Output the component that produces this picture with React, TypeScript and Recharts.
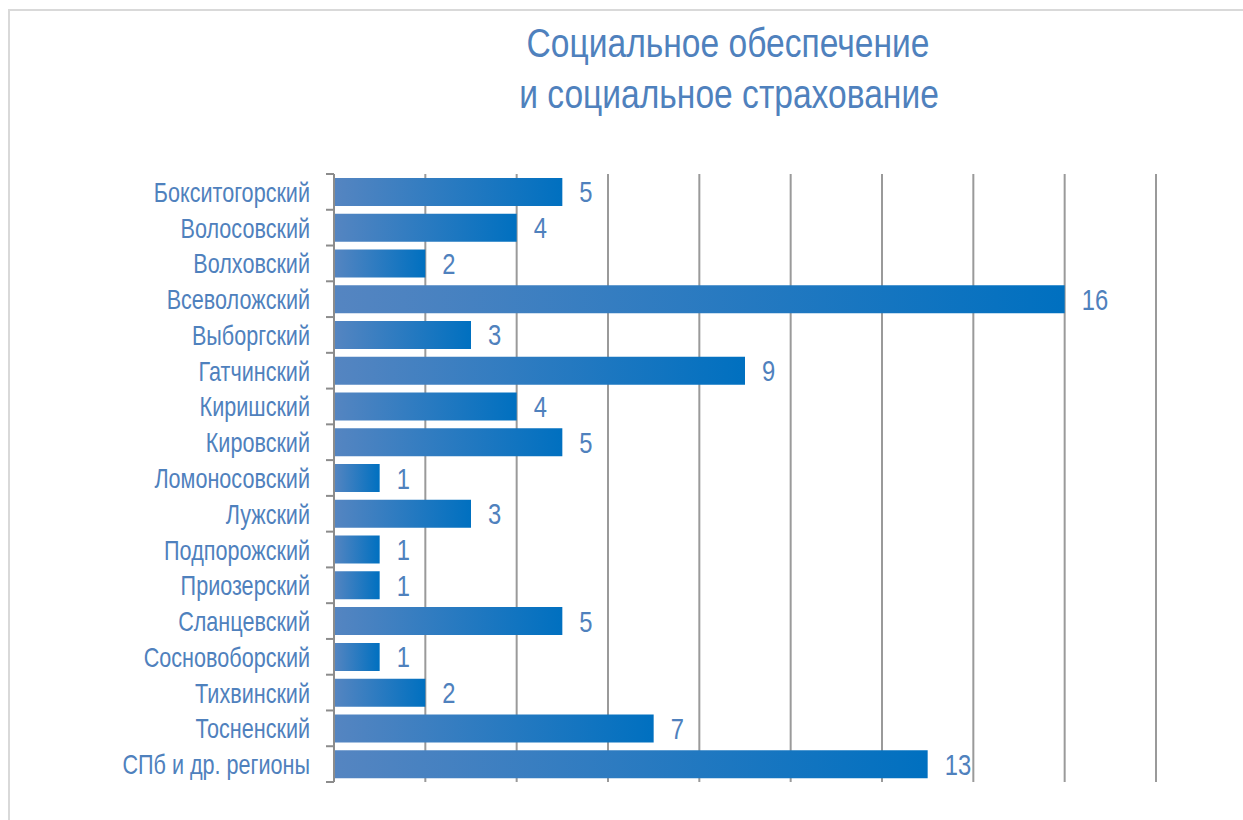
import React from "react";
import { BarChart, Bar, XAxis, YAxis, CartesianGrid, LabelList } from "recharts";

const categories = [
  "Бокситогорский",
  "Волосовский",
  "Волховский",
  "Всеволожский",
  "Выборгский",
  "Гатчинский",
  "Киришский",
  "Кировский",
  "Ломоносовский",
  "Лужский",
  "Подпорожский",
  "Приозерский",
  "Сланцевский",
  "Сосновоборский",
  "Тихвинский",
  "Тосненский",
  "СПб и др. регионы",
];
const values = [5, 4, 2, 16, 3, 9, 4, 5, 1, 3, 1, 1, 5, 1, 2, 7, 13];
const xTicks = [0, 2, 4, 6, 8, 10, 12, 14, 16, 18];
const titleLines = ["Социальное обеспечение", "и социальное страхование"];

const data = categories.map((name, i) => ({ name, value: values[i] }));

const W = 1243;
const H = 820;
const M = { top: 174, right: 87, bottom: 38, left: 0 };
const AXIS_W = 334;
const BAND = (H - M.top - M.bottom) / categories.length;
const FONT = '"Liberation Sans", Arial, sans-serif';
const TEXT_BLUE = "#4F81BD";

const NarrowText = ({ x, y, size, anchor, scale = 0.8, children }: any) => (
  <text
    transform={`translate(${x},${y}) scale(${scale},1)`}
    x={0}
    y={0}
    textAnchor={anchor}
    fill={TEXT_BLUE}
    fontFamily={FONT}
    fontSize={size}
  >
    {children}
  </text>
);

const CatTick = (props: any) => {
  const { x, y, payload, index } = props;
  const ax = AXIS_W;
  return (
    <g>
      <line x1={ax - 8} x2={ax} y1={y - BAND / 2} y2={y - BAND / 2} stroke="#8c8c8c" strokeWidth={2} />
      {index === categories.length - 1 && (
        <line x1={ax - 8} x2={ax} y1={y + BAND / 2} y2={y + BAND / 2} stroke="#8c8c8c" strokeWidth={2} />
      )}
      <NarrowText x={x - 16} y={y + 10} size={27} anchor="end">
        {payload.value}
      </NarrowText>
    </g>
  );
};

const ValueLabel = (props: any) => {
  const { x, y, width, height, value } = props;
  return (
    <NarrowText x={x + width + 17} y={y + height / 2 + 10.5} size={29} anchor="start" scale={0.82}>
      {value}
    </NarrowText>
  );
};

export default function App() {
  return (
    <div style={{ position: "absolute", left: 0, top: 0, width: W, height: H, background: "#fff" }}>
      <svg width={W} height={H} style={{ position: "absolute", left: 0, top: 0 }}>
        <rect x={9} y={10} width={W + 20} height={H + 20} fill="none" stroke="#d9d9d9" strokeWidth={2} />
        <NarrowText x={728} y={57} size={40} anchor="middle" scale={0.84}>
          {titleLines[0]}
        </NarrowText>
        <NarrowText x={729} y={108} size={40} anchor="middle" scale={0.84}>
          {titleLines[1]}
        </NarrowText>
      </svg>
      <div style={{ position: "absolute", left: 0, top: 0 }}>
        <BarChart
          width={W}
          height={H}
          data={data}
          layout="vertical"
          margin={M}
          barCategoryGap="11%"
        >
          <defs>
            <linearGradient id="barGrad" x1="0" y1="0" x2="1" y2="0">
              <stop offset="0%" stopColor="#5585C1" />
              <stop offset="100%" stopColor="#0070C0" />
            </linearGradient>
          </defs>
          <CartesianGrid horizontal={false} vertical stroke="#9a9a9a" strokeWidth={2} />
          <XAxis type="number" domain={[0, 18]} ticks={xTicks} hide />
          <YAxis
            type="category"
            dataKey="name"
            width={AXIS_W}
            axisLine={{ stroke: "#8c8c8c", strokeWidth: 2 }}
            tickLine={false}
            tick={<CatTick />}
            interval={0}
          />
          <Bar dataKey="value" fill="url(#barGrad)" isAnimationActive={false}>
            <LabelList dataKey="value" content={<ValueLabel />} />
          </Bar>
        </BarChart>
      </div>
    </div>
  );
}
